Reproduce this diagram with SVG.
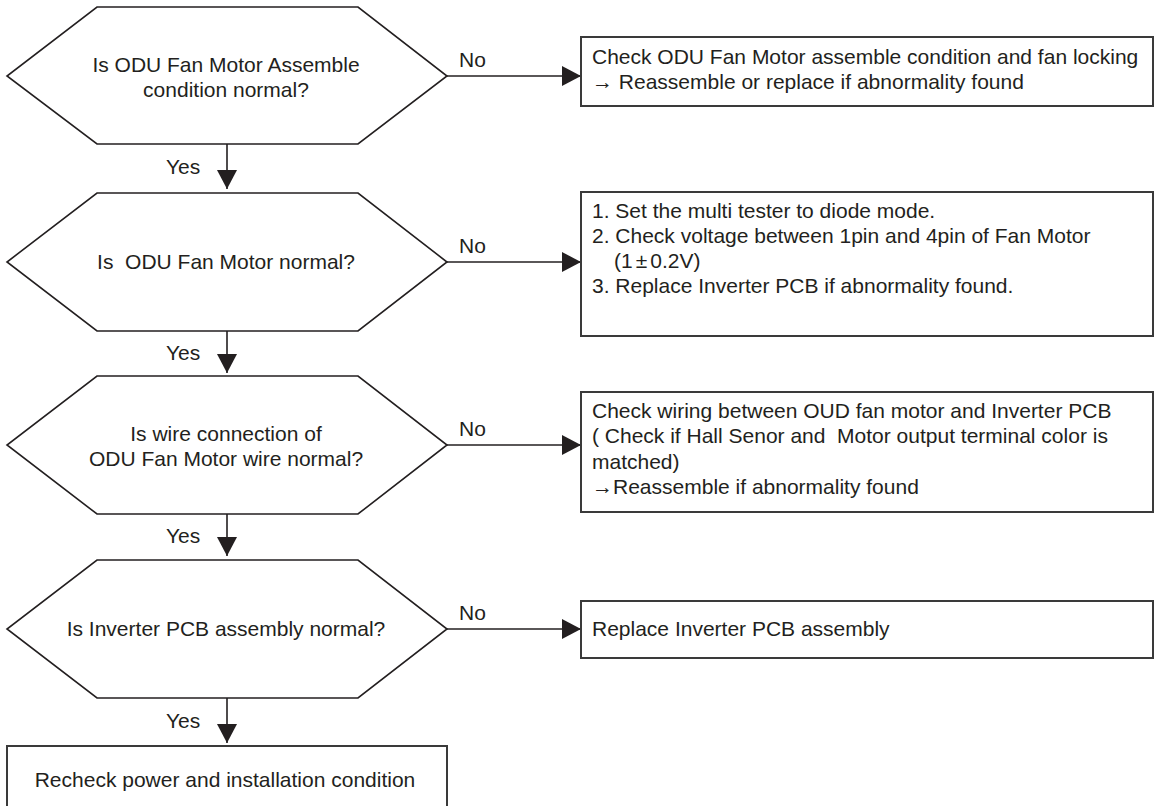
<svg xmlns="http://www.w3.org/2000/svg" width="1155" height="806" viewBox="0 0 1155 806">
<style>
.hex{fill:#fff;stroke:#231f20;stroke-width:1.6}
.box{fill:#fff;stroke:#3a3a3a;stroke-width:2}
.t{font-family:"Liberation Sans",Arial,sans-serif;font-size:21px;fill:#231f20;white-space:pre}
.c{text-anchor:middle}
.ln{stroke:#231f20;stroke-width:1.6;fill:none}
</style>
<defs>
<marker id="ah" viewBox="0 0 19 20" refX="19" refY="10" markerWidth="19" markerHeight="20" markerUnits="userSpaceOnUse" orient="auto">
<path d="M0,0 L19,10 L0,20 Z" fill="#231f20"/>
</marker>
</defs>
<rect width="1155" height="806" fill="#fff"/>
<g id="connectors">
<line class="ln" x1="447" y1="76" x2="581" y2="76" marker-end="url(#ah)"/>
<line class="ln" x1="227" y1="144" x2="227" y2="189" marker-end="url(#ah)"/>
<line class="ln" x1="447" y1="262" x2="581" y2="262" marker-end="url(#ah)"/>
<line class="ln" x1="227" y1="331" x2="227" y2="373" marker-end="url(#ah)"/>
<line class="ln" x1="447" y1="445" x2="581" y2="445" marker-end="url(#ah)"/>
<line class="ln" x1="227" y1="514" x2="227" y2="556" marker-end="url(#ah)"/>
<line class="ln" x1="447" y1="629" x2="581" y2="629" marker-end="url(#ah)"/>
<line class="ln" x1="227" y1="698" x2="227" y2="743" marker-end="url(#ah)"/>
<text class="t" x="459" y="67">No</text>
<text class="t" x="459" y="253">No</text>
<text class="t" x="459" y="436">No</text>
<text class="t" x="459" y="620">No</text>
<text class="t" x="166" y="174">Yes</text>
<text class="t" x="166" y="360">Yes</text>
<text class="t" x="166" y="543">Yes</text>
<text class="t" x="166" y="728">Yes</text>
</g>
<g id="q1">
<polygon class="hex" points="97,7 358,7 447,76 358,144 97,144 7,76"/>
<text class="t c" x="226" y="72">Is ODU Fan Motor Assemble</text>
<text class="t c" x="226" y="97">condition normal?</text>
</g>
<g id="a1">
<rect class="box" x="581" y="37" width="572" height="69"/>
<text class="t" x="592" y="64">Check ODU Fan Motor assemble condition and fan locking</text>
<text class="t" x="592" y="89">→ Reassemble or replace if abnormality found</text>
</g>
<g id="q2">
<polygon class="hex" points="97,193 358,193 447,262 358,331 97,331 7,262"/>
<text class="t c" x="226" y="269">Is  ODU Fan Motor normal?</text>
</g>
<g id="a2">
<rect class="box" x="581" y="192" width="572" height="144"/>
<text class="t" x="592" y="218">1. Set the multi tester to diode mode.</text>
<text class="t" x="592" y="243">2. Check voltage between 1pin and 4pin of Fan Motor</text>
<text class="t" x="614" y="268">(1<tspan dx="3">±</tspan><tspan dx="3">0.2V)</tspan></text>
<text class="t" x="592" y="293">3. Replace Inverter PCB if abnormality found.</text>
</g>
<g id="q3">
<polygon class="hex" points="97,376 358,376 447,445 358,514 97,514 7,445"/>
<text class="t c" x="226" y="441">Is wire connection of</text>
<text class="t c" x="226" y="466">ODU Fan Motor wire normal?</text>
</g>
<g id="a3">
<rect class="box" x="581" y="392" width="572" height="120"/>
<text class="t" x="592" y="418">Check wiring between OUD fan motor and Inverter PCB</text>
<text class="t" x="592" y="443">( Check if Hall Senor and  Motor output terminal color is</text>
<text class="t" x="592" y="469">matched)</text>
<text class="t" x="592" y="494">→Reassemble if abnormality found</text>
</g>
<g id="q4">
<polygon class="hex" points="97,560 358,560 447,629 358,698 97,698 7,629"/>
<text class="t c" x="226" y="636">Is Inverter PCB assembly normal?</text>
</g>
<g id="a4">
<rect class="box" x="581" y="601" width="572" height="57"/>
<text class="t" x="592" y="636">Replace Inverter PCB assembly</text>
</g>
<g id="end">
<rect class="box" x="7" y="746" width="440" height="62"/>
<text class="t c" x="225" y="787">Recheck power and installation condition</text>
</g>
</svg>
